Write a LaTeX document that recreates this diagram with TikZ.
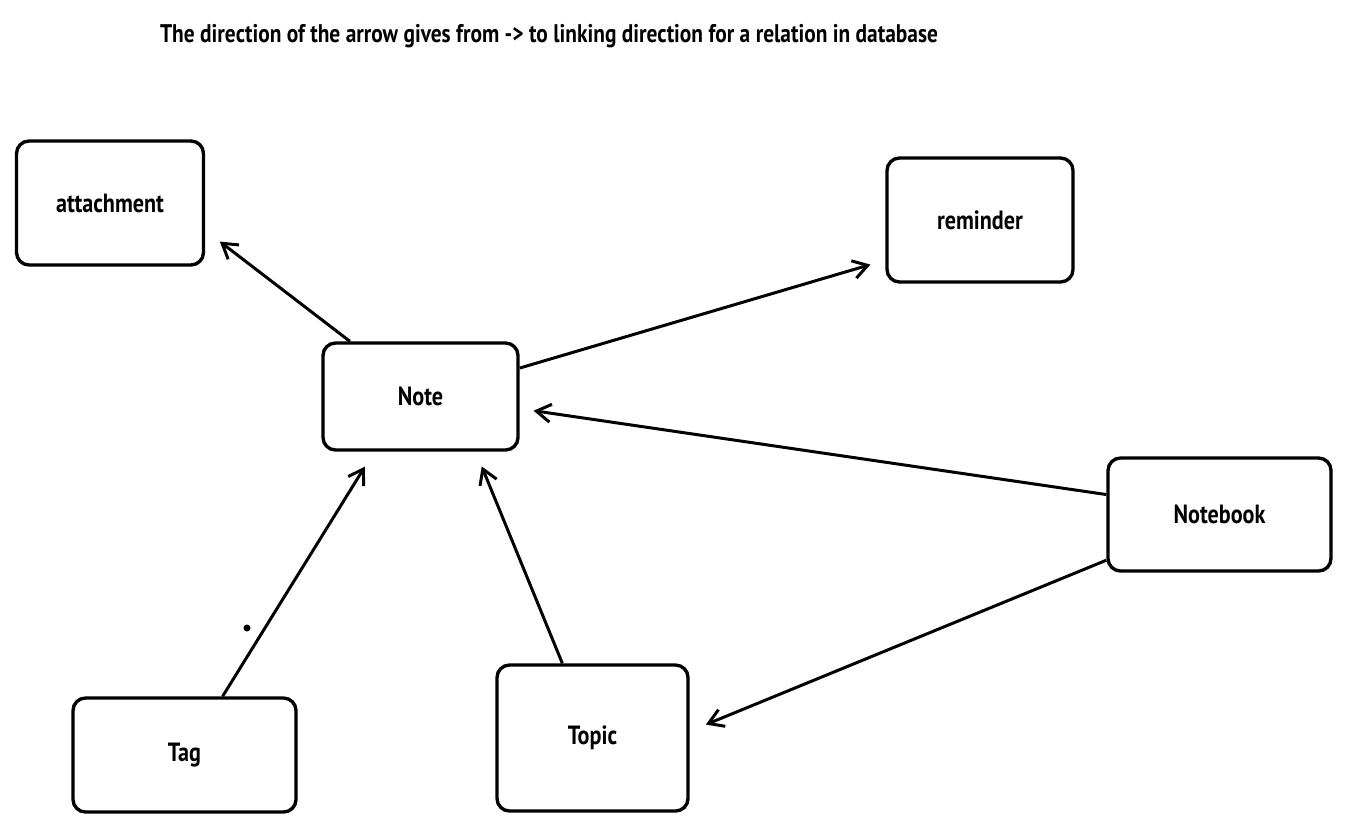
\documentclass[tikz,border=0pt]{standalone}
\usepackage{fontspec}
\setmainfont{PT Sans}[FakeStretch=0.84]
\usepackage{tikz}
\usetikzlibrary{arrows.meta}
\usetikzlibrary{positioning,calc}

\begin{document}
\begin{tikzpicture}
     \tikzset{entity/.style={draw, line width=1.9pt, rounded corners=0.25cm, font=\bfseries\fontsize{15}{17}\selectfont}}
     \tikzset{link/.style={draw, line width=1.7pt, -{Straight Barb[length=2.9mm, width=3.6mm, line width=1.7pt]}}}
     \useasboundingbox (0,0) rectangle (26.96,-16.6);

     \node [font=\bfseries\fontsize{14.5}{17}\selectfont] (title) at (10.98,-0.72) {The direction of the arrow gives from -> to linking direction for a relation in database};

     \node [entity, minimum width=3.74cm, minimum height=2.48cm] (attachment) at (2.2,-4.06) {attachment};
     \node [entity, minimum width=3.72cm, minimum height=2.48cm] (reminder) at (19.6,-4.4) {reminder};
     \node [entity, minimum width=3.9cm, minimum height=2.14cm]  (note) at (8.41,-7.93) {Note};
     \node [entity, minimum width=4.46cm, minimum height=2.26cm] (notebook) at (24.39,-10.29) {Notebook};
     \node [entity, minimum width=4.46cm, minimum height=2.28cm] (tag) at (3.69,-15.1) {Tag};
     \node [entity, minimum width=3.82cm, minimum height=2.92cm] (topic) at (11.85,-14.76) {Topic};

     % from -> to
     \path [link, shorten >=0.37cm] (note.142) -- (attachment.344.6);
     \path [link, shorten >=0.31cm] (note.16) -- (reminder.203.6);
     \path [link, shorten >=0.28cm] (notebook.170.7) -- (note.353.3);
     \path [link, shorten >=0.35cm] (notebook.202.2) -- (topic.4.5);
     \path [link, shorten >=0.35cm] (tag.57.6) -- (note.230);
     \path [link, shorten >=0.32cm] (topic.112.1) -- (note.315);

     \fill (4.94,-12.56) circle (0.07cm);
   \end{tikzpicture}
\end{document}
